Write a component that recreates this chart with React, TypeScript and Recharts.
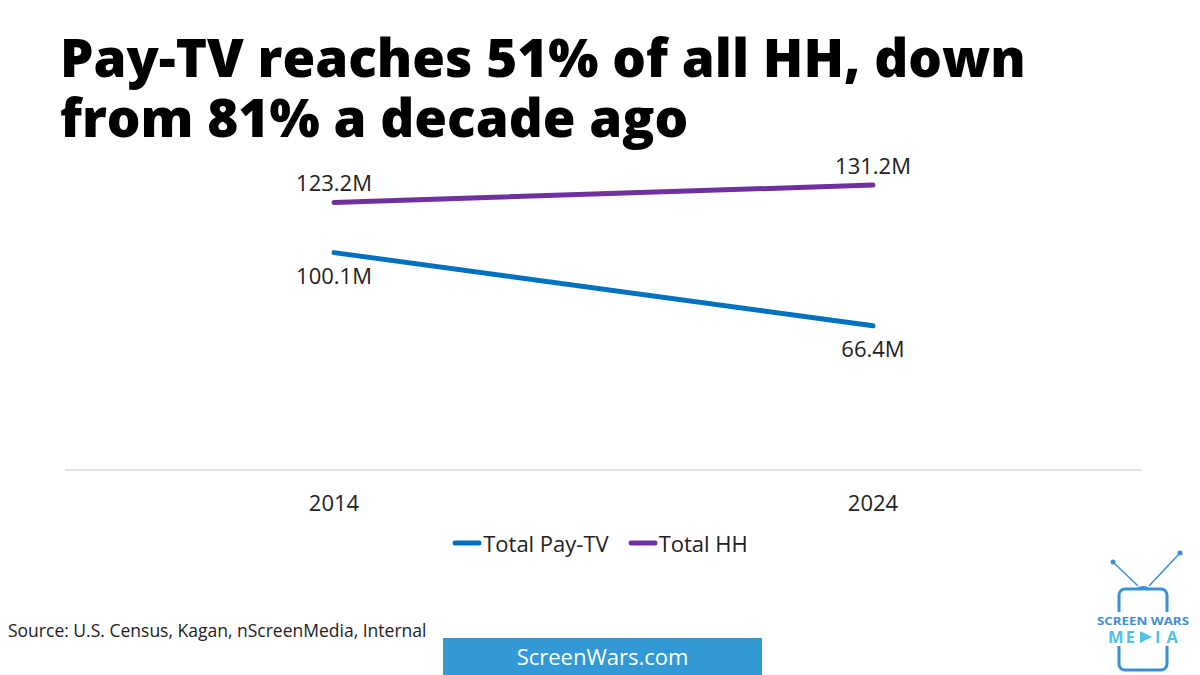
import { LineChart, Line, XAxis, YAxis, Legend, LabelList } from 'recharts';

const years = ['2014', '2024'];
const totalPayTv = [100.1, 66.4];
const totalHH = [123.2, 131.2];
const seriesNames = ['Total Pay-TV', 'Total HH'];

const data = years.map((year, i) => ({
    year,
    [seriesNames[0]]: totalPayTv[i],
    [seriesNames[1]]: totalHH[i],
}));

const FONT = '"Open Sans", "Liberation Sans", sans-serif';
const BLUE = '#0070c0';
const PURPLE = '#7030a0';
const LOGO_BLUE = '#3b8fd6';
const LOGO_CYAN = '#4ec0ea';

const fmt = (v: any) => `${v}M`;

const LegendContent = (props: any) => {
    const payload = [...(props.payload || [])].sort(
        (a: any, b: any) => seriesNames.indexOf(a.value) - seriesNames.indexOf(b.value)
    );
    return (
        <div style={{ display: 'flex', justifyContent: 'center', gap: 19, fontFamily: FONT, fontSize: 22, color: '#222' }}>
            {payload.map((p: any) => (
                <div key={p.value} style={{ display: 'flex', alignItems: 'center' }}>
                    <svg width={30} height={8} style={{ marginRight: 1 }}>
                        <line x1={3} y1={4} x2={27} y2={4} stroke={p.color} strokeWidth={5} strokeLinecap="round" />
                    </svg>
                    <span>{p.value}</span>
                </div>
            ))}
        </div>
    );
};

const Logo = () => (
    <svg width={120} height={135} style={{ position: 'absolute', left: 1080, top: 540 }}>
        <line x1={33} y1={22} x2={58} y2={46} stroke={LOGO_BLUE} strokeWidth={1.5} />
        <line x1={100} y1={13} x2={69} y2={46} stroke={LOGO_BLUE} strokeWidth={1.5} />
        <circle cx={33} cy={22} r={2.5} fill={LOGO_BLUE} />
        <circle cx={100} cy={13} r={2.5} fill={LOGO_BLUE} />
        <path d="M54,50 Q63,42 72,50 Z" fill={LOGO_BLUE} />
        <rect x={39} y={49} width={48} height={81} rx={6} fill="none" stroke={LOGO_BLUE} strokeWidth={3} />
        <rect x={14} y={72} width={98} height={34} fill="#fff" />
        <text
            x={17}
            y={85}
            fontFamily={FONT}
            fontWeight={700}
            fontSize={10}
            fill={LOGO_BLUE}
            textLength={92}
            lengthAdjust="spacingAndGlyphs"
        >
            SCREEN WARS
        </text>
        <text x={28} y={103} fontFamily={FONT} fontWeight={700} fontSize={16.5} fill={LOGO_CYAN} textLength={27} lengthAdjust="spacing">
            ME
        </text>
        <polygon points="60,91 60,103 72,97" fill={LOGO_CYAN} />
        <text x={75} y={103} fontFamily={FONT} fontWeight={700} fontSize={16.5} fill={LOGO_CYAN} textLength={23} lengthAdjust="spacing">
            IA
        </text>
    </svg>
);

const App = () => {
    return (
        <div style={{ position: 'absolute', left: 0, top: 0, width: 1200, height: 675, background: '#fff', overflow: 'hidden' }}>
            <div
                style={{
                    position: 'absolute',
                    left: 60,
                    top: 27,
                    fontFamily: FONT,
                    fontWeight: 800,
                    fontSize: 53,
                    lineHeight: '60px',
                    color: '#000',
                    whiteSpace: 'nowrap',
                }}
            >
                Pay-TV reaches 51% of all HH, down
                <br />
                from 81% a decade ago
            </div>

            <div style={{ position: 'absolute', left: 0, top: 0 }}>
                <LineChart
                    width={1200}
                    height={675}
                    data={data}
                    margin={{ top: 166, right: 58, left: 65, bottom: 175 }}
                >
                    <XAxis
                        dataKey="year"
                        padding={{ left: 269, right: 269 }}
                        axisLine={{ stroke: '#d9d9d9', strokeWidth: 1.5 }}
                        tickLine={false}
                        tickMargin={19}
                        tick={{ fill: '#222', fontSize: 22, fontFamily: FONT }}
                    />
                    <YAxis hide domain={[0, 140]} />
                    <Legend
                        layout="horizontal"
                        verticalAlign="middle"
                        align="center"
                        itemSorter={null as any}
                        content={<LegendContent />}
                        wrapperStyle={{ top: 528, left: 0, width: 1200 }}
                    />
                    <Line
                        type="linear"
                        dataKey={seriesNames[0]}
                        stroke={BLUE}
                        strokeWidth={5}
                        strokeLinecap="round"
                        dot={false}
                        activeDot={false}
                        isAnimationActive={false}
                    >
                        <LabelList
                            dataKey={seriesNames[0]}
                            position="bottom"
                            offset={16}
                            formatter={fmt}
                            style={{ fill: '#222', fontSize: 22, fontFamily: FONT }}
                        />
                    </Line>
                    <Line
                        type="linear"
                        dataKey={seriesNames[1]}
                        stroke={PURPLE}
                        strokeWidth={5}
                        strokeLinecap="round"
                        dot={false}
                        activeDot={false}
                        isAnimationActive={false}
                    >
                        <LabelList
                            dataKey={seriesNames[1]}
                            position="top"
                            offset={11}
                            formatter={fmt}
                            style={{ fill: '#222', fontSize: 22, fontFamily: FONT }}
                        />
                    </Line>
                </LineChart>
            </div>

            <div
                style={{
                    position: 'absolute',
                    left: 8,
                    top: 618,
                    fontFamily: FONT,
                    fontSize: 17.5,
                    lineHeight: '24px',
                    color: '#222',
                    whiteSpace: 'nowrap',
                }}
            >
                Source: U.S. Census, Kagan, nScreenMedia, Internal
            </div>

            <div
                style={{
                    position: 'absolute',
                    left: 443,
                    top: 638,
                    width: 319,
                    height: 37,
                    background: '#3399d6',
                    color: '#fff',
                    fontFamily: FONT,
                    fontSize: 22,
                    lineHeight: '37px',
                    textAlign: 'center',
                }}
            >
                ScreenWars.com
            </div>

            <Logo />
        </div>
    );
};

export default App;
